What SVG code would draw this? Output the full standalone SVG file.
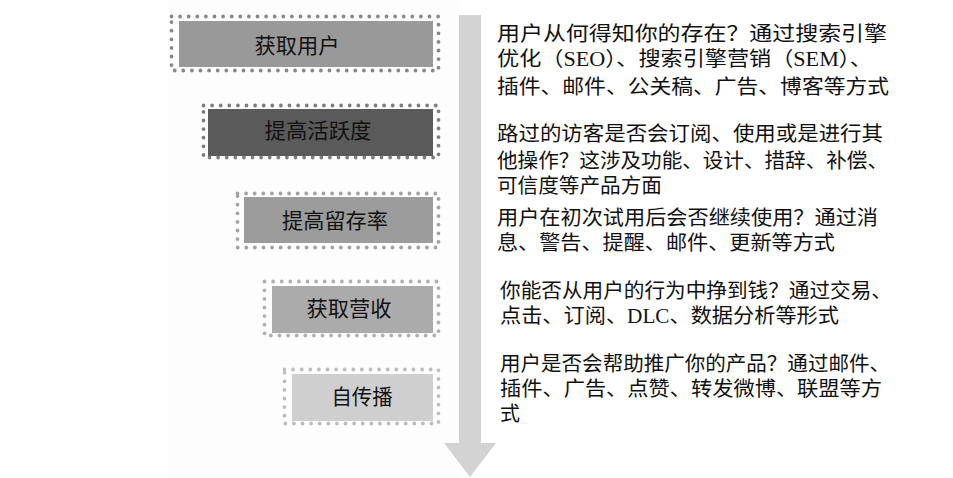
<svg xmlns="http://www.w3.org/2000/svg" width="953" height="478" viewBox="0 0 953 478">
<style>
.dots{fill:none;stroke-width:3.8;stroke-dasharray:0 8.6;stroke-linecap:round}
.lbl{font-family:"Liberation Serif","Noto Sans CJK SC",serif;font-size:21px;fill:#111;text-anchor:middle}
.desc{font-family:"Liberation Serif","Noto Sans CJK SC",serif;font-size:20px;fill:#111}
</style>
<rect x="0" y="0" width="953" height="478" fill="#ffffff"/>
<rect x="168" y="0" width="292" height="478" fill="#fdfdfd"/>
<g id="connectors">
<polygon points="459,15 481,15 481,443 496,443 470,477 444,443 459,443" fill="#d3d3d3"/>
</g>
<g id="node1">
<rect class="dots" x="171.5" y="16.5" width="267" height="54" stroke="#888888"/>
<rect x="179" y="21" width="254" height="46" fill="#999999"/>
<text class="lbl" x="297" y="53" textLength="85" lengthAdjust="spacingAndGlyphs">获取用户</text>
</g>
<g id="node2">
<rect class="dots" x="203.5" y="105.5" width="235" height="52" stroke="#7d7d7d"/>
<rect x="208" y="109" width="225" height="47" fill="#5a5a5a"/>
<text class="lbl" x="318" y="138" textLength="107" lengthAdjust="spacingAndGlyphs">提高活跃度</text>
</g>
<g id="node3">
<rect class="dots" x="237.5" y="193.5" width="201" height="54" stroke="#a2a2a2"/>
<rect x="244" y="197" width="189" height="46" fill="#9c9c9c"/>
<text class="lbl" x="335" y="228" textLength="106" lengthAdjust="spacingAndGlyphs">提高留存率</text>
</g>
<g id="node4">
<rect class="dots" x="264.5" y="281.5" width="174" height="54" stroke="#b0b0b0"/>
<rect x="272" y="286" width="161" height="47" fill="#ababab"/>
<text class="lbl" x="349" y="316" textLength="85" lengthAdjust="spacingAndGlyphs">获取营收</text>
</g>
<g id="node5">
<rect class="dots" x="284.5" y="369.5" width="154" height="54" stroke="#bdbdbd"/>
<rect x="292" y="374" width="141" height="47" fill="#cfcfcf"/>
<text class="lbl" x="362" y="404" textLength="61" lengthAdjust="spacingAndGlyphs">自传播</text>
</g>
<g id="desc1">
<text class="desc" x="497" y="41" textLength="390" lengthAdjust="spacingAndGlyphs">用户从何得知你的存在？通过搜索引擎</text>
<text class="desc" x="497" y="66" textLength="375" lengthAdjust="spacingAndGlyphs">优化（SEO）、搜索引擎营销（SEM）、</text>
<text class="desc" x="497" y="94" textLength="392" lengthAdjust="spacingAndGlyphs">插件、邮件、公关稿、广告、博客等方式</text>
</g>
<g id="desc2">
<text class="desc" x="497" y="141" textLength="386" lengthAdjust="spacingAndGlyphs">路过的访客是否会订阅、使用或是进行其</text>
<text class="desc" x="497" y="168" textLength="391" lengthAdjust="spacingAndGlyphs">他操作？这涉及功能、设计、措辞、补偿、</text>
<text class="desc" x="497" y="193" textLength="165" lengthAdjust="spacingAndGlyphs">可信度等产品方面</text>
</g>
<g id="desc3">
<text class="desc" x="497" y="225" textLength="381" lengthAdjust="spacingAndGlyphs">用户在初次试用后会否继续使用？通过消</text>
<text class="desc" x="497" y="250" textLength="338" lengthAdjust="spacingAndGlyphs">息、警告、提醒、邮件、更新等方式</text>
</g>
<g id="desc4">
<text class="desc" x="500" y="298" textLength="392" lengthAdjust="spacingAndGlyphs">你能否从用户的行为中挣到钱？通过交易、</text>
<text class="desc" x="500" y="323" textLength="339" lengthAdjust="spacingAndGlyphs">点击、订阅、DLC、数据分析等形式</text>
</g>
<g id="desc5">
<text class="desc" x="500" y="371" textLength="390" lengthAdjust="spacingAndGlyphs">用户是否会帮助推广你的产品？通过邮件、</text>
<text class="desc" x="500" y="396" textLength="382" lengthAdjust="spacingAndGlyphs">插件、广告、点赞、转发微博、联盟等方</text>
<text class="desc" x="500" y="421">式</text>
</g>
</svg>
